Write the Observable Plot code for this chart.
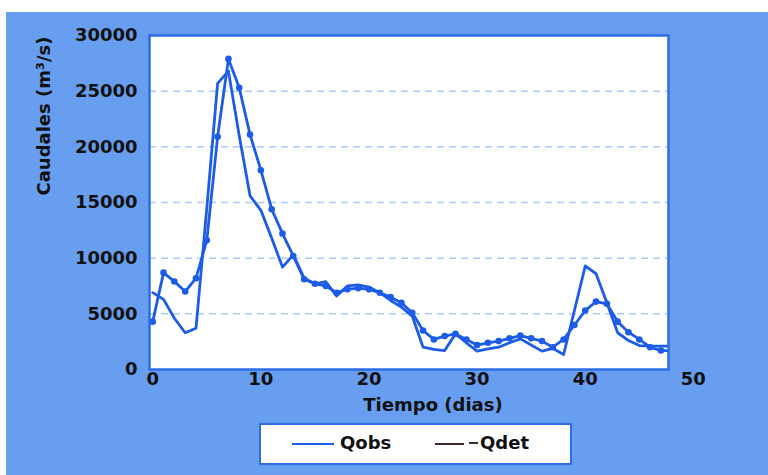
<!DOCTYPE html>
<html><head><meta charset="utf-8">
<script src="https://cdn.jsdelivr.net/npm/d3@7"></script>
<script src="https://cdn.jsdelivr.net/npm/@observablehq/plot@0.6"></script>
<style>
body{margin:0;background:#fff;}
#wrap{position:relative;width:768px;height:475px;overflow:hidden;font-family:"DejaVu Sans",sans-serif;}
#panel{position:absolute;left:6px;top:12px;right:0;bottom:0;background:#679ef0;}
#chart{position:absolute;left:0;top:0;}
#legend{position:absolute;left:259px;top:423px;width:309px;height:38px;background:#fff;border:2px solid #2d6de6;}
#legend .ln{position:absolute;height:0;}
#legend .tx{position:absolute;top:8px;font-size:18px;font-weight:bold;color:#111;line-height:20px;}
</style></head>
<body>
<div id="wrap">
<div id="panel"></div>
<div id="chart"></div>
<div id="legend">
  <div class="ln" style="left:31px;top:18px;width:42px;border-top:2px solid #1e5ee6;"></div>
  <div class="tx" style="left:79px;">Qobs</div>
  <div class="ln" style="left:174px;top:18px;width:29px;border-top:2px solid #3a2c26;"></div>
  <div class="ln" style="left:208px;top:17px;width:9px;border-top:2px solid #3a2c26;"></div>
  <div class="tx" style="left:219px;">Qdet</div>
</div>
</div>
<script>
const days = [0,1,2,3,4,5,6,7,8,9,10,11,12,13,14,15,16,17,18,19,20,21,22,23,24,25,26,27,28,29,30,31,32,33,34,35,36,37,38,39,40,41,42,43,44,45,46,47,48];
const qobs = [6900,6300,4600,3300,3700,14500,25700,26800,21000,15600,14300,11800,9200,10300,8200,7700,7900,6600,7500,7600,7400,6900,6200,5600,4800,2000,1800,1700,3200,2400,1650,1850,2000,2400,2750,2200,1650,1900,1350,5300,9300,8600,6000,3300,2600,2150,2100,2100,2100];
const qdet = [4300,8700,7900,7000,8200,11600,20900,27900,25300,21100,17900,14400,12200,10200,8100,7700,7500,6900,7200,7300,7200,6900,6500,6000,5100,3500,2700,3000,3200,2700,2200,2400,2550,2800,3050,2800,2550,2000,2700,4000,5300,6100,5900,4300,3350,2700,2000,1700,1700];
const yTicks = [0,5000,10000,15000,20000,25000,30000];
const gridValues = [5000,10000,15000,20000,25000];
const xTicks = [0,10,20,30,40,50];
const yTitle = "Caudales (m³/s)";
const xTitle = "Tiempo (dias)";

const rows = days.map((d,i)=>({day:d, qobs:qobs[i], qdet:qdet[i]}));
const blue = "#1c5ce6";
const chart = Plot.plot({
  width:768, height:430,
  marginLeft:149, marginRight:100, marginTop:35, marginBottom:61,
  style:{background:"transparent", fontFamily:"DejaVu Sans", overflow:"visible"},
  x:{domain:[-0.3,47.7], axis:null},
  y:{domain:[0,30000], axis:null},
  marks:[
    Plot.frame({fill:"white"}),
    Plot.ruleY(gridValues,{stroke:"#a9cdf6", strokeWidth:1.5, strokeDasharray:"7,5"}),
    Plot.line(rows,{x:"day", y:"qobs", stroke:blue, strokeWidth:2.8, clip:true}),
    Plot.line(rows,{x:"day", y:"qdet", stroke:blue, strokeWidth:2.8, clip:true}),
    Plot.dot(rows,{x:"day", y:"qdet", r:3.3, fill:blue, clip:true}),
    Plot.frame({stroke:"#2d6de6", strokeWidth:2.5}),
    Plot.axisY(yTicks,{tickSize:0, tickPadding:12, tickFormat:d=>String(d), fontSize:18, fontWeight:"bold", fill:"#111", label:null}),
    Plot.text(xTicks,{x:d=>d, text:d=>String(d), frameAnchor:"bottom", dy:15, fontSize:18, fontWeight:"bold", fill:"#111"}),
    Plot.text([yTitle],{frameAnchor:"left", dx:-105, dy:-7, rotate:-90, fontSize:18, fontWeight:"bold", fill:"#111"}),
    Plot.text([xTitle],{frameAnchor:"bottom", dx:24, dy:41, fontSize:18, fontWeight:"bold", fill:"#111"})
  ]
});
document.getElementById("chart").appendChild(chart);
</script>
</body></html>
